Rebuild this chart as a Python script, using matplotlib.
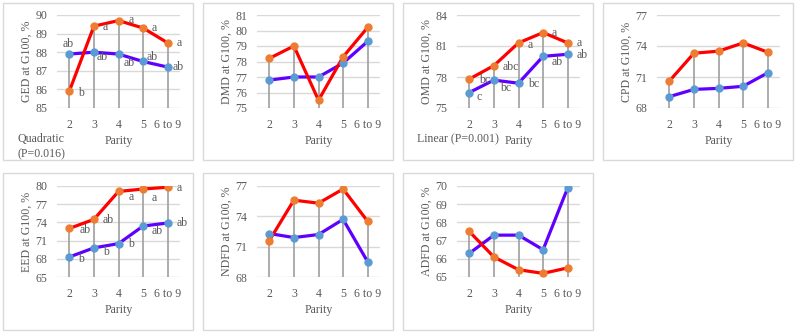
import numpy as np
import matplotlib
matplotlib.use('Agg')
import matplotlib.pyplot as plt
from matplotlib.patches import Rectangle

plt.rcParams['font.family'] = ['Liberation Serif', 'DejaVu Serif']
fs = 8.6

parity = ['2', '3', '4', '5', '6 to 9']

ged_red = [85.9, 89.4, 89.7, 89.3, 88.5]
ged_blue = [87.9, 88.0, 87.9, 87.5, 87.2]
dmd_red = [78.2, 79.0, 75.5, 78.3, 80.2]
dmd_blue = [76.8, 77.0, 77.0, 77.9, 79.3]
omd_red = [77.8, 79.1, 81.3, 82.3, 81.3]
omd_blue = [76.5, 77.7, 77.4, 80.0, 80.2]
cpd_red = [70.6, 73.3, 73.5, 74.3, 73.4]
cpd_blue = [69.1, 69.8, 69.9, 70.1, 71.4]
eed_red = [73.0, 74.5, 79.1, 79.5, 79.8]
eed_blue = [68.3, 69.8, 70.5, 73.4, 73.9]
ndfd_red = [71.6, 75.6, 75.3, 76.7, 73.5]
ndfd_blue = [72.3, 71.9, 72.2, 73.7, 69.5]
adfd_red = [67.5, 66.1, 65.4, 65.2, 65.5]
adfd_blue = [66.3, 67.3, 67.3, 66.5, 69.9]

ged_red_lab = ['b', 'a', 'a', 'a', 'a']
ged_blue_lab = ['ab', 'ab', 'ab', 'ab', 'ab']
omd_red_lab = ['bc', 'abc', 'a', 'a', 'a']
omd_blue_lab = ['c', 'bc', 'bc', 'ab', 'ab']
eed_red_lab = ['ab', 'ab', 'a', 'a', 'a']
eed_blue_lab = ['b', 'b', 'b', 'ab', 'ab']

# label offsets in pixels (dx from point to left edge, dy up)
ged_red_off = [(9, -2), (9, -1), (10, 1), (9, 0), (9, 0)]
ged_blue_off = [(-7, 10), (3, -5), (5, -9), (4, 4), (5, 0)]
omd_red_off = [(10, -1), (9, -1), (9, -2), (9, 0), (9, 0)]
omd_blue_off = [(7, -4), (6, -8), (10, -1), (9, -6), (9, -1)]
eed_red_off = [(10, -2), (9, -1), (10, -6), (9, -9), (9, -1)]
eed_blue_off = [(9, -2), (9, -4), (10, 0), (9, -5), (9, 0)]

panels = [
    ('GED at G100, %', ged_red, ged_blue, (85, 90), np.arange(85, 91, 1),
     (ged_red_lab, ged_red_off), (ged_blue_lab, ged_blue_off), 'Quadratic\n(P=0.016)'),
    ('DMD at G100, %', dmd_red, dmd_blue, (75, 81), np.arange(75, 82, 1), None, None, None),
    ('OMD at G100, %', omd_red, omd_blue, (75, 84), np.arange(75, 85, 3),
     (omd_red_lab, omd_red_off), (omd_blue_lab, omd_blue_off), 'Linear (P=0.001)'),
    ('CPD at G100, %', cpd_red, cpd_blue, (68, 77), np.arange(68, 78, 3), None, None, None),
    ('EED at G100, %', eed_red, eed_blue, (65, 80), np.arange(65, 81, 3),
     (eed_red_lab, eed_red_off), (eed_blue_lab, eed_blue_off), None),
    ('NDFD at G100, %', ndfd_red, ndfd_blue, (68, 77), np.arange(68, 78, 3), None, None, None),
    ('ADFD at G100, %', adfd_red, adfd_blue, (65, 70), np.arange(65, 71, 1), None, None, None),
]

W, H = 796, 334
fig = plt.figure(figsize=(W / 100, H / 100), dpi=100)

txt = '#595959'
rows = [(15, 108, 3, 160), (186, 277, 173, 330)]

for i, (ylab, red, blue, ylim, yt, rlab, blab, note) in enumerate(panels):
    r, c = divmod(i, 4)
    ytop, ybot, btop, bbot = rows[r]
    x0 = c * 200
    fig.patches.append(Rectangle(((x0 + 3) / W, 1 - bbot / H), 190 / W, (bbot - btop) / H,
                                 transform=fig.transFigure, fill=False,
                                 edgecolor='#D9D9D9', lw=1))
    ax = fig.add_axes([(x0 + 57) / W, 1 - ybot / H, 123 / W, (ybot - ytop) / H])
    x = np.arange(len(parity))
    top = np.maximum(red, blue)
    ax.vlines(x, ylim[0], top, color='#A6A6A6', lw=1.3, zorder=1)
    ax.plot(x, blue, color='#5F00FF', lw=2.3, zorder=3)
    ax.plot(x, red, color='#FF0000', lw=2.3, zorder=3)
    ax.plot(x, blue, 'o', color='#5B9BD5', ms=5, zorder=4)
    ax.plot(x, red, 'o', color='#ED7D31', ms=5, zorder=4)
    ax.set_xlim(-0.5, 4.5)
    ax.set_ylim(*ylim)
    ax.set_yticks(yt)
    ax.set_xticks(x)
    ax.set_xticklabels(parity)
    ax.grid(axis='y', color='#D9D9D9', lw=1)
    ax.set_axisbelow(True)
    for s in ax.spines.values():
        s.set_visible(False)
    ax.tick_params(length=0, colors=txt, labelsize=fs)
    ax.tick_params(axis='y', pad=7)
    ax.tick_params(axis='x', pad=8)
    ax.set_ylabel(ylab, color=txt, fontsize=fs, labelpad=2)
    ax.set_xlabel('Parity', color=txt, fontsize=fs, labelpad=3)
    for lab in (rlab, blab):
        if lab is None:
            continue
        vals = red if lab is rlab else blue
        for xi, v, t, (dx, dy) in zip(x, vals, lab[0], lab[1]):
            ax.annotate(t, (xi, v), xytext=(dx, dy), textcoords='offset pixels',
                        ha='left', va='center', color=txt, fontsize=fs,
                        annotation_clip=False, zorder=5)
    if note is not None:
        fig.text((x0 + 17) / W, 1 - 133 / H, note, ha='left', va='top',
                 color=txt, fontsize=fs, linespacing=1.35)

fig.savefig('out.png', dpi=100)
